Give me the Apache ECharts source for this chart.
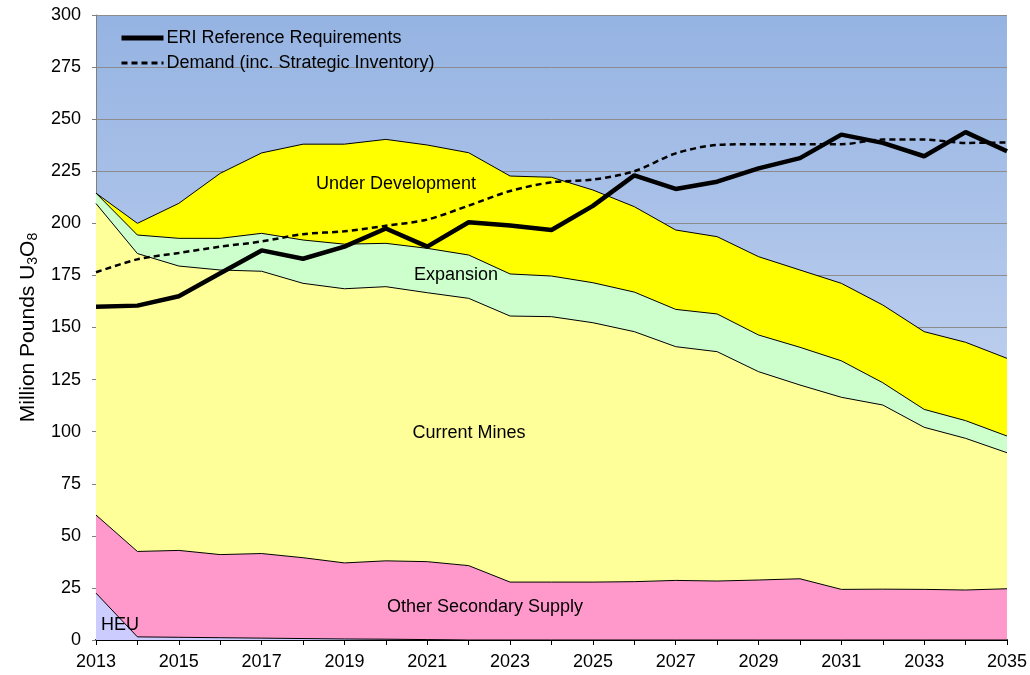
<!DOCTYPE html>
<html>
<head>
<meta charset="utf-8">
<script src="https://cdn.jsdelivr.net/npm/echarts@6/dist/echarts.min.js"></script>
<style>
  html, body { margin: 0; padding: 0; background: #ffffff; }
  #chart-container { width: 1030px; height: 675px; }
</style>
</head>
<body>
<div id="chart-container"></div>
<script>
  // Years on the x axis
  let years = ["2013", "2014", "2015", "2016", "2017", "2018", "2019", "2020", "2021", "2022", "2023", "2024",
    "2025", "2026", "2027", "2028", "2029", "2030", "2031", "2032", "2033", "2034", "2035"];

  // Supply layers (stacked, bottom to top), million lb U3O8
  let heu = [22.5, 1.5, 1.3, 1.1, 0.9, 0.7, 0.5, 0.4, 0.2, 0, 0, 0, 0, 0, 0, 0, 0, 0, 0, 0, 0, 0, 0];
  let otherSecondary = [37.5, 41, 41.7, 39.9, 40.6, 38.8, 36.5, 37.6, 37.4, 35.7, 27.8, 27.8, 27.8, 28, 28.6,
    28.3, 28.8, 29.4, 24.3, 24.4, 24.3, 24, 24.6];
  let currentMines = [149.5, 143, 136.5, 136.6, 135.5, 131.7, 131.6, 131.6, 129.1, 128.3, 127.7, 127.4, 124.5,
    120, 112.2, 110.1, 100, 93, 92.2, 88.4, 77.8, 72.8, 65.3];
  let expansion = [5, 8.9, 13.3, 15.2, 18.2, 20.8, 21.4, 20.8, 21.3, 20.8, 20.2, 19.5, 19.2, 19, 17.9, 18.1,
    17.6, 18.1, 17.5, 10.7, 8.6, 8.5, 8];
  let underDevelopment = [0, 5.6, 16.8, 31.2, 38.6, 46, 48, 49.9, 49.6, 49.1, 47, 47.4, 44.5, 41, 38.1, 37.1,
    37.6, 37.1, 37.2, 37.3, 37.3, 37.6, 37.3];

  // Requirement / demand lines
  let eriReference = [160, 160.5, 165, 176, 187, 183, 188.8, 197.5, 188.8, 200.5, 199, 196.8, 208.4, 223,
    216.5, 220, 226.4, 231.3, 242.6, 238.6, 232.2, 243.8, 234.6];
  let demand = [176.5, 182.7, 185.8, 188.8, 191.3, 194.8, 196.2, 198.8, 201.8, 208.5, 215.5, 219.7, 221, 225,
    233.6, 237.6, 238, 238, 238, 240.2, 240.2, 238.6, 238.8];

  let font = "Liberation Sans, Arial, sans-serif";

  function areaSeries(name, data, color) {
    return {
      name: name,
      type: "line",
      stack: "supply",
      data: data,
      symbol: "none",
      lineStyle: { color: "#000000", width: 1 },
      areaStyle: { color: color, opacity: 1 },
      z: 2
    };
  }

  let chart = echarts.init(document.getElementById("chart-container"));

  let option = {
    animation: false,
    textStyle: { fontFamily: font },
    grid: {
      left: 96, right: 22, top: 15, bottom: 35,
      show: true,
      borderWidth: 0,
      backgroundColor: {
        type: "linear", x: 0, y: 0, x2: 0, y2: 1,
        colorStops: [
          { offset: 0, color: "#95b3e2" },
          { offset: 1, color: "#d8e2f6" }
        ]
      }
    },
    legend: {
      orient: "vertical",
      left: 114,
      top: 24,
      itemWidth: 42,
      itemHeight: 14,
      itemGap: 7,
      itemStyle: { opacity: 0 },
      textStyle: { fontSize: 18, color: "#000000", fontFamily: font, padding: [0, 0, 0, -2] },
      data: [
        { name: "ERI Reference Requirements", lineStyle: { width: 5, color: "#000000" } },
        { name: "Demand (inc. Strategic Inventory)", lineStyle: { width: 2.8, type: [6, 4], color: "#000000" } }
      ]
    },
    xAxis: {
      type: "category",
      data: years,
      boundaryGap: false,
      axisLine: { lineStyle: { color: "#000000", width: 2 } },
      axisTick: { interval: 0, length: 5, lineStyle: { color: "#000000" } },
      axisLabel: { interval: 1, fontSize: 18, color: "#000000", margin: 13 },
      splitLine: { show: false }
    },
    yAxis: {
      type: "value",
      min: 0,
      max: 300,
      interval: 25,
      name: "{t|Million Pounds U}{s|3}{t|O}{s|8}",
      nameLocation: "middle",
      nameGap: 55,
      nameTextStyle: {
        rich: {
          t: { fontSize: 21, color: "#000000", fontFamily: font },
          s: { fontSize: 14, color: "#000000", fontFamily: font, padding: [10, 0, 0, 0] }
        }
      },
      axisLine: { show: true, lineStyle: { color: "#808080", width: 1 } },
      axisTick: { show: true, length: 4, lineStyle: { color: "#808080" } },
      axisLabel: { fontSize: 18, color: "#000000", margin: 15 },
      splitLine: { show: true, lineStyle: { color: "#8c8c8c", width: 1 } }
    },
    series: [
      areaSeries("HEU", heu, "#ccccff"),
      areaSeries("Other Secondary Supply", otherSecondary, "#ff99cc"),
      areaSeries("Current Mines", currentMines, "#ffff99"),
      areaSeries("Expansion", expansion, "#ccffcc"),
      areaSeries("Under Development", underDevelopment, "#ffff00"),
      {
        name: "ERI Reference Requirements",
        type: "line",
        data: eriReference,
        symbol: "none",
        lineStyle: { color: "#000000", width: 4.5 },
        z: 4
      },
      {
        name: "Demand (inc. Strategic Inventory)",
        type: "line",
        data: demand,
        symbol: "none",
        smooth: 0.3,
        lineStyle: { color: "#000000", width: 2.5, type: [6, 4] },
        z: 3
      }
    ]
  };

  chart.setOption(option);

  // Layer labels inside the areas
  let labelStyle = { fontSize: 18, fill: "#000000", fontFamily: font, align: "center", verticalAlign: "middle" };
  chart.setOption({
    graphic: [
      { type: "text", x: 396, y: 184, z: 10, style: Object.assign({ text: "Under Development" }, labelStyle) },
      { type: "text", x: 456, y: 275, z: 10, style: Object.assign({ text: "Expansion" }, labelStyle) },
      { type: "text", x: 469, y: 433, z: 10, style: Object.assign({ text: "Current Mines" }, labelStyle) },
      { type: "text", x: 485, y: 607, z: 10, style: Object.assign({ text: "Other Secondary Supply" }, labelStyle) },
      { type: "text", x: 120, y: 625, z: 10, style: Object.assign({ text: "HEU" }, labelStyle) }
    ]
  });
</script>
</body>
</html>
